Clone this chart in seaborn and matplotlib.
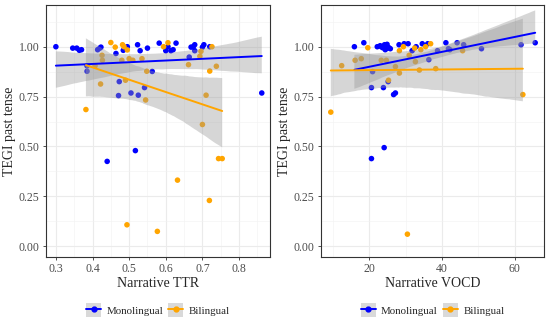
import numpy as np
import pandas as pd
import matplotlib
matplotlib.use("Agg")
import matplotlib.pyplot as plt
import seaborn as sns
from matplotlib.lines import Line2D
from matplotlib.patches import Patch
from matplotlib.legend_handler import HandlerTuple
from matplotlib.ticker import AutoMinorLocator, MultipleLocator

sns.set_theme(style="white")
plt.rcParams['font.family'] = ['Liberation Serif', 'DejaVu Serif']

# left panel: TTR
mono_ttr = [0.30, 0.346, 0.357, 0.364, 0.37, 0.385, 0.385, 0.414, 0.42, 0.423,
            0.464, 0.473, 0.471, 0.484, 0.49, 0.495, 0.505, 0.523, 0.525, 0.53,
            0.542, 0.55, 0.563, 0.582, 0.60, 0.606, 0.614, 0.62, 0.628, 0.664,
            0.669, 0.675, 0.679, 0.679, 0.70, 0.704, 0.72, 0.862, 0.44, 0.517]
mono_ttr_tegi = [1.00, 0.993, 0.993, 0.982, 0.985, 0.904, 0.877, 0.985, 0.993, 0.998,
                 0.966, 0.825, 0.755, 0.982, 0.99, 1.0, 0.768, 1.01, 0.757, 0.98,
                 0.795, 0.993, 0.876, 1.018, 0.98, 1.0, 0.98, 0.985, 1.018, 0.948,
                 0.998, 1.0, 1.01, 0.98, 0.998, 1.01, 1.0, 0.768, 0.425, 0.479]
bi_ttr = [0.382, 0.407, 0.422, 0.426, 0.427, 0.45, 0.462, 0.482, 0.486, 0.495,
          0.48, 0.49, 0.50, 0.51, 0.535, 0.548, 0.545, 0.594, 0.606, 0.662,
          0.693, 0.696, 0.70, 0.71, 0.72, 0.726, 0.738, 0.494, 0.577, 0.632,
          0.719, 0.744, 0.754]
bi_ttr_tegi = [0.685, 0.904, 0.813, 0.957, 0.932, 1.021, 0.998, 1.01, 1.0, 0.984,
               0.932, 0.832, 0.94, 0.932, 0.94, 0.877, 0.733, 1.0, 1.02, 0.91,
               0.952, 0.977, 0.61, 0.757, 0.878, 1.0, 0.902, 0.107, 0.074, 0.331,
               0.229, 0.439, 0.439]

# right panel: VOCD
mono_vocd = [15.9, 18.5, 20.6, 20.9, 22.2, 23.3, 23.7, 24.2, 24.6, 24.9,
             25.2, 25.4, 23.9, 25.2, 26.7, 27.2, 28.2, 29.6, 30.7, 31.8,
             32.9, 34.6, 36.1, 36.4, 38.8, 41.1, 41.8, 42.2, 44.2, 46.0,
             50.9, 61.8, 65.7, 20.6, 24.1, 23.0, 24.4, 25.8]
mono_vocd_tegi = [1.0, 1.02, 0.795, 0.875, 1.0, 1.0, 0.995, 1.01, 0.99, 1.012,
                  0.995, 0.995, 0.795, 0.825, 0.76, 0.768, 1.01, 1.015, 1.015, 0.98,
                  1.0, 1.015, 1.015, 0.935, 0.98, 1.02, 0.99, 0.985, 1.02, 1.01,
                  0.99, 1.01, 1.02, 0.439, 0.494, 1.005, 0.985, 0.99]
bi_vocd = [9.4, 12.4, 16.1, 17.8, 19.6, 23.3, 24.7, 25.3, 27.2, 28.3,
           28.3, 29.4, 31.0, 32.5, 32.7, 33.8, 34.2, 35.5, 36.9, 38.3,
           45.7, 62.3, 30.5]
bi_vocd_tegi = [0.672, 0.905, 0.932, 0.94, 0.995, 0.932, 0.932, 0.832, 0.9, 0.98,
                0.868, 1.0, 0.957, 0.993, 0.925, 0.883, 0.985, 1.0, 1.015, 0.89,
                0.98, 0.76, 0.06]

groups = ["Monolingual", "Bilingual"]
colors = {"Monolingual": "#0000FF", "Bilingual": "#FFA500"}


def make_df(mx, my, bx, by):
    return pd.DataFrame({
        "x": mx + bx,
        "y": my + by,
        "group": ["Monolingual"] * len(mx) + ["Bilingual"] * len(bx),
    })


def draw_panel(ax, df, xlabel, xlim, xstep):
    sns.scatterplot(data=df, x="x", y="y", hue="group", palette=colors,
                    s=16, linewidth=0, ax=ax, legend=False, zorder=2)
    for g in groups:
        sub = df[df["group"] == g]
        sns.regplot(data=sub, x="x", y="y", scatter=False, ci=95, n_boot=2000,
                    seed=3, truncate=True, color=colors[g], ax=ax,
                    line_kws={"linewidth": 1.4, "zorder": 4})
        band = ax.collections[-1]
        band.set_facecolor("#999999")
        band.set_alpha(0.4)
        band.set_edgecolor("none")
        band.set_zorder(3)

    ax.set_xlim(*xlim)
    ax.set_ylim(-0.055, 1.21)
    ax.xaxis.set_major_locator(MultipleLocator(xstep))
    ax.xaxis.set_minor_locator(AutoMinorLocator(2))
    ax.set_yticks([0, 0.25, 0.5, 0.75, 1.0])
    ax.set_yticklabels(["0.00", "0.25", "0.50", "0.75", "1.00"])
    ax.yaxis.set_minor_locator(AutoMinorLocator(2))
    ax.grid(which="major", color="#ebebeb", linewidth=0.8)
    ax.grid(which="minor", color="#f2f2f2", linewidth=0.4)
    ax.set_axisbelow(True)
    for sp in ax.spines.values():
        sp.set_color("#333333")
        sp.set_linewidth(0.8)
    ax.tick_params(axis="both", which="major", length=2.5, width=0.6,
                   color="#333333", labelsize=8.5, labelcolor="#4d4d4d", pad=2,
                   bottom=True, left=True)
    ax.tick_params(which="minor", length=0)
    ax.set_xlabel(xlabel, fontsize=10, labelpad=1)
    ax.set_ylabel("TEGI past tense", fontsize=10, labelpad=2)

    handles = [(Patch(facecolor="#d9d9d9", edgecolor="none"),
                Line2D([], [], color=colors[g], marker="o", markersize=3.5,
                       linewidth=1.4)) for g in groups]
    ax.legend(handles, groups, loc="center", bbox_to_anchor=(0.5, -0.21),
              ncol=2, frameon=False, fontsize=7.8, handlelength=1.35,
              handleheight=1.5, columnspacing=0.5, handletextpad=0.5,
              handler_map={tuple: HandlerTuple(ndivide=1)})


fig = plt.figure(figsize=(5.5, 3.23), dpi=100)
ax1 = fig.add_axes([0.0836, 0.204, 0.407, 0.781])
ax2 = fig.add_axes([0.5836, 0.204, 0.406, 0.781])

draw_panel(ax1, make_df(mono_ttr, mono_ttr_tegi, bi_ttr, bi_ttr_tegi),
           "Narrative TTR", (0.273, 0.884), 0.1)
draw_panel(ax2, make_df(mono_vocd, mono_vocd_tegi, bi_vocd, bi_vocd_tegi),
           "Narrative VOCD", (6.7, 68.2), 20)

fig.savefig("out.png", dpi=100)
